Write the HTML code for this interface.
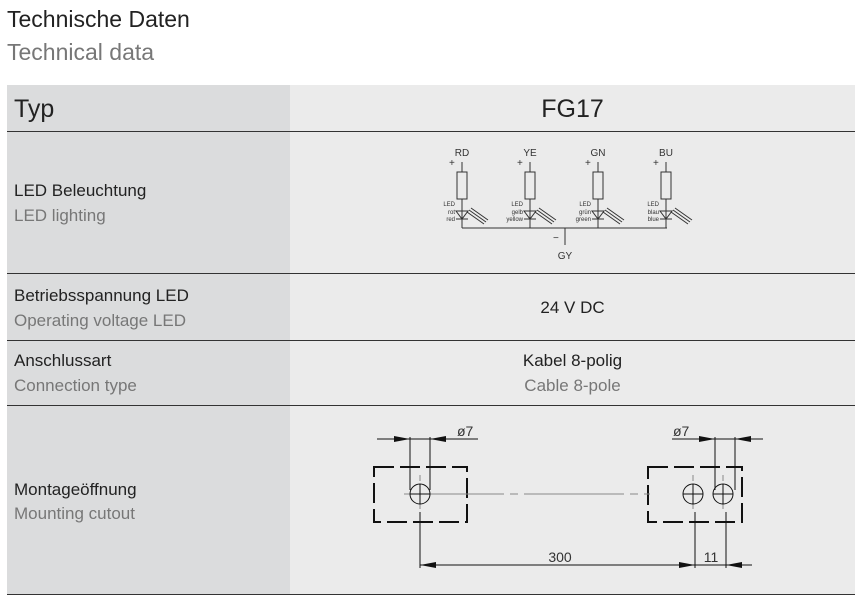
<!DOCTYPE html>
<html><head><meta charset="utf-8"><style>
body{margin:0;width:861px;height:602px;background:#fff;font-family:"Liberation Sans",sans-serif;position:relative;overflow:hidden}
.a{position:absolute;white-space:nowrap}
.de{color:#222;font-size:17px}.en{color:#777;font-size:17px}
.line{position:absolute;left:7px;width:848px;height:1px;background:#333}
</style></head><body>
<div class="a" style="left:7px;top:6px;font-size:23px;color:#222">Technische Daten</div>
<div class="a" style="left:7px;top:39px;font-size:23px;color:#777">Technical data</div>
<div class="a" style="left:7px;top:85px;width:283px;height:510px;background:#dbdcdd"></div>
<div class="a" style="left:290px;top:85px;width:565px;height:510px;background:#ebebeb"></div>
<div class="line" style="top:131px"></div>
<div class="line" style="top:273px"></div>
<div class="line" style="top:340px"></div>
<div class="line" style="top:405px"></div>
<div class="line" style="top:594px"></div>
<div class="a" style="left:14px;top:95px;font-size:25px;color:#222">Typ</div>
<div class="a" style="left:290px;width:565px;text-align:center;top:95px;font-size:25px;color:#222">FG17</div>
<div class="a de" style="left:14px;top:181px">LED Beleuchtung</div>
<div class="a en" style="left:14px;top:206px">LED lighting</div>
<div class="a de" style="left:14px;top:286px">Betriebsspannung LED</div>
<div class="a en" style="left:14px;top:311px">Operating voltage LED</div>
<div class="a de" style="left:290px;width:565px;text-align:center;top:298px">24 V DC</div>
<div class="a de" style="left:14px;top:351px">Anschlussart</div>
<div class="a en" style="left:14px;top:376px">Connection type</div>
<div class="a de" style="left:290px;width:565px;text-align:center;top:351px">Kabel 8-polig</div>
<div class="a en" style="left:290px;width:565px;text-align:center;top:376px">Cable 8-pole</div>
<div class="a de" style="left:14px;top:480px">Montageöffnung</div>
<div class="a en" style="left:14px;top:504px">Mounting cutout</div>
<svg class="a" style="left:0;top:0" width="861" height="602" font-family="Liberation Sans, sans-serif">
<g stroke="#333" fill="none" stroke-width="1">
<line x1="462" y1="228" x2="667" y2="228"/>
<line x1="565" y1="228" x2="565" y2="245"/>
</g>
<g font-size="10" fill="#333">
<text x="565" y="259" text-anchor="middle">GY</text>
<text x="553" y="241">−</text>
</g>
<g id="c">
</g>
<!-- LED columns -->
<g stroke="#333" fill="none" stroke-width="1" font-size="10">
<g transform="translate(462,0)"><line x1="0" y1="162" x2="0" y2="172"/><rect x="-5" y="172" width="10" height="27"/><line x1="0" y1="199" x2="0" y2="228"/><path d="M-6,211 L6,211 L0,219 Z"/><line x1="-6" y1="219" x2="6" y2="219"/><path d="M5,212 L22,224 M7,210 L24,222 M9,208 L26,220"/></g>
<g transform="translate(530,0)"><line x1="0" y1="162" x2="0" y2="172"/><rect x="-5" y="172" width="10" height="27"/><line x1="0" y1="199" x2="0" y2="228"/><path d="M-6,211 L6,211 L0,219 Z"/><line x1="-6" y1="219" x2="6" y2="219"/><path d="M5,212 L22,224 M7,210 L24,222 M9,208 L26,220"/></g>
<g transform="translate(598,0)"><line x1="0" y1="162" x2="0" y2="172"/><rect x="-5" y="172" width="10" height="27"/><line x1="0" y1="199" x2="0" y2="228"/><path d="M-6,211 L6,211 L0,219 Z"/><line x1="-6" y1="219" x2="6" y2="219"/><path d="M5,212 L22,224 M7,210 L24,222 M9,208 L26,220"/></g>
<g transform="translate(666,0)"><line x1="0" y1="162" x2="0" y2="172"/><rect x="-5" y="172" width="10" height="27"/><line x1="0" y1="199" x2="0" y2="228"/><path d="M-6,211 L6,211 L0,219 Z"/><line x1="-6" y1="219" x2="6" y2="219"/><path d="M5,212 L22,224 M7,210 L24,222 M9,208 L26,220"/></g>
</g>
<g fill="#333" font-size="10">
<text x="462" y="156" text-anchor="middle">RD</text><text x="530" y="156" text-anchor="middle">YE</text><text x="598" y="156" text-anchor="middle">GN</text><text x="666" y="156" text-anchor="middle">BU</text>
<text x="449" y="166">+</text><text x="517" y="166">+</text><text x="585" y="166">+</text><text x="653" y="166">+</text>
</g>
<g fill="#333" font-size="6" text-anchor="end">
<text x="455" y="206">LED</text><text x="455" y="214">rot</text><text x="455" y="221">red</text>
<text x="523" y="206">LED</text><text x="523" y="214">gelb</text><text x="523" y="221">yellow</text>
<text x="591" y="206">LED</text><text x="591" y="214">grün</text><text x="591" y="221">green</text>
<text x="659" y="206">LED</text><text x="659" y="214">blau</text><text x="659" y="221">blue</text>
</g>
<!-- mounting -->
<g stroke="#111" fill="none" stroke-width="2" stroke-dasharray="20,6">
<rect x="374" y="467" width="93" height="55"/>
<rect x="648" y="467" width="94" height="55"/>
</g>
<g stroke="#888" stroke-width="1" fill="none">
<line x1="404" y1="494" x2="650" y2="494" stroke-dasharray="100,6,8,6"/>
<line x1="420" y1="475" x2="420" y2="512" stroke-dasharray="6,3,2,3"/>
<line x1="693" y1="475" x2="693" y2="512" stroke-dasharray="6,3,2,3"/>
<line x1="723" y1="475" x2="723" y2="512" stroke-dasharray="6,3,2,3"/>
</g>
<g stroke="#111" stroke-width="1" fill="none">
<circle cx="420" cy="494" r="10"/><line x1="410" y1="494" x2="430" y2="494"/><line x1="420" y1="484" x2="420" y2="504"/>
<circle cx="693" cy="494" r="10"/><line x1="683" y1="494" x2="703" y2="494"/><line x1="693" y1="484" x2="693" y2="504"/>
<circle cx="723" cy="494" r="10"/><line x1="713" y1="494" x2="733" y2="494"/><line x1="723" y1="484" x2="723" y2="504"/>
<line x1="410" y1="437" x2="410" y2="490"/><line x1="430" y1="437" x2="430" y2="490"/>
<line x1="377" y1="439" x2="478" y2="439"/><line x1="455" y1="439" x2="478" y2="439"/>
<line x1="715" y1="437" x2="715" y2="490"/><line x1="735" y1="437" x2="735" y2="490"/>
<line x1="672" y1="439" x2="763" y2="439"/>
<line x1="420" y1="512" x2="420" y2="568"/><line x1="695" y1="512" x2="695" y2="568"/><line x1="726" y1="512" x2="726" y2="568"/>
<line x1="420" y1="565" x2="752" y2="565"/>
</g>
<g fill="#111">
<path d="M410,439 l-16,-3 v6 z"/><path d="M430,439 l16,-3 v6 z"/>
<path d="M715,439 l-16,-3 v6 z"/><path d="M735,439 l16,-3 v6 z"/>
<path d="M420,565 l16,-3 v6 z"/><path d="M695,565 l-16,-3 v6 z"/><path d="M726,565 l16,-3 v6 z"/>
</g>
<g fill="#333" font-size="14">
<text x="457" y="436">ø7</text><text x="673" y="436">ø7</text>
<text x="560" y="562" text-anchor="middle">300</text><text x="711" y="562" text-anchor="middle">11</text>
</g>
</svg>
</body></html>
